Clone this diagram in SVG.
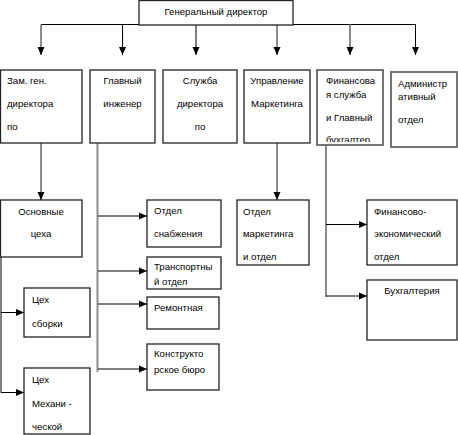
<svg xmlns="http://www.w3.org/2000/svg" width="458" height="435" viewBox="0 0 458 435">
<style>
.box{fill:#fff;stroke:#222;stroke-width:1.3}
.box2{fill:#fff;stroke:#666;stroke-width:1.8}
.t{font-family:"Liberation Sans",Arial,sans-serif;font-size:9.6px;fill:#000}
.c{text-anchor:middle}
.ln{stroke:#000;stroke-width:1;fill:none}
.gl{stroke:#8c8c8c;stroke-width:2;fill:none}
</style>
<defs>
<marker id="ah" viewBox="0 0 8 8" refX="8" refY="4" markerWidth="8" markerHeight="8" markerUnits="userSpaceOnUse" orient="auto">
<path d="M0,0.5 L8,4 L0,7.5 Z" fill="#000"/>
</marker>
<clipPath id="clip5"><rect x="317" y="70" width="66" height="72"/></clipPath>
</defs>

<g id="connectors">
<path class="ln" d="M41,24.5 H415.5"/>
<path class="gl" d="M41,24.5 V48"/><path class="ln" d="M41,47 V55" marker-end="url(#ah)"/>
<path class="ln" d="M122.5,24.5 V55" marker-end="url(#ah)"/>
<path class="ln" d="M196,24.5 V55" marker-end="url(#ah)"/>
<path class="gl" d="M277,24.5 V48"/><path class="ln" d="M277,47 V55" marker-end="url(#ah)"/>
<path class="gl" d="M350,24.5 V48"/><path class="ln" d="M350,47 V55" marker-end="url(#ah)"/>
<path class="ln" d="M415.5,24.5 V55" marker-end="url(#ah)"/>

<path class="gl" d="M41,143 V193"/><path class="ln" d="M41,192 V200" marker-end="url(#ah)"/>
<path class="gl" d="M97.5,143 V372"/>
<path class="ln" d="M98,216 H147" marker-end="url(#ah)"/>
<path class="ln" d="M98,271 H147" marker-end="url(#ah)"/>
<path class="ln" d="M98,304 H147" marker-end="url(#ah)"/>
<path class="ln" d="M98,369 H147" marker-end="url(#ah)"/>

<path class="ln" d="M1,257 V392.5"/>
<path class="ln" d="M1,312.5 H24" marker-end="url(#ah)"/>
<path class="ln" d="M1,392.5 H24" marker-end="url(#ah)"/>

<path class="gl" d="M277,143 V193"/><path class="ln" d="M277,192 V200" marker-end="url(#ah)"/>
<path class="gl" d="M326,145 V297"/>
<path class="ln" d="M326,224.5 H367" marker-end="url(#ah)"/>
<path class="ln" d="M326,296 H367" marker-end="url(#ah)"/>
</g>

<g id="n-gen">
<rect class="box" x="139" y="0.5" width="154" height="24.5"/>
<text class="t c" x="216" y="15">Генеральный директор</text>
</g>

<g id="n-zam">
<rect class="box" x="0.5" y="70" width="81.5" height="73"/>
<text class="t" x="7" y="83.5">Зам. ген.</text>
<text class="t" x="7" y="106.5">директора</text>
<text class="t" x="7" y="129.5">по</text>
</g>

<g id="n-glav">
<rect class="box" x="90" y="70" width="65" height="73"/>
<text class="t c" x="122.5" y="83.5">Главный</text>
<text class="t c" x="122.5" y="106.5">инженер</text>
</g>

<g id="n-sluzhba">
<rect class="box" x="163" y="70" width="74" height="73"/>
<text class="t c" x="200" y="83.5">Служба</text>
<text class="t c" x="200" y="106.5">директора</text>
<text class="t c" x="200" y="129.5">по</text>
</g>

<g id="n-upr">
<rect class="box" x="244" y="70" width="66" height="73"/>
<text class="t c" x="277" y="83.5">Управление</text>
<text class="t c" x="277" y="106.5">Маркетинга</text>
</g>

<g id="n-fin">
<rect class="box2" x="317" y="70" width="66" height="75"/>
<g clip-path="url(#clip5)">
<text class="t" x="326" y="83.5">Финансова</text>
<text class="t" x="326" y="97.5">я служба</text>
<text class="t" x="326" y="120.5">и Главный</text>
<text class="t" x="326" y="143">бухгалтер</text>
</g>
</g>

<g id="n-admin">
<rect class="box2" x="391" y="72" width="66" height="75"/>
<text class="t" x="398" y="86.5">Администр</text>
<text class="t" x="398" y="99.5">ативный</text>
<text class="t" x="398" y="122.5">отдел</text>
</g>

<g id="n-osn">
<rect class="box" x="0.5" y="200" width="81.5" height="57"/>
<text class="t c" x="41" y="214.5">Основные</text>
<text class="t c" x="41" y="236.5">цеха</text>
</g>

<g id="n-snab">
<rect class="box" x="147" y="200" width="74" height="47"/>
<text class="t" x="154" y="213.5">Отдел</text>
<text class="t" x="154" y="236.5">снабжения</text>
</g>

<g id="n-trans">
<rect class="box" x="147" y="257" width="74" height="32"/>
<text class="t" x="154" y="269.5">Транспортны</text>
<text class="t" x="154" y="284.5">й отдел</text>
</g>

<g id="n-rem">
<rect class="box" x="147" y="297" width="72" height="32"/>
<text class="t" x="154" y="310.5">Ремонтная</text>
</g>

<g id="n-konstr">
<rect class="box" x="147" y="344" width="72" height="46"/>
<text class="t" x="154" y="356.5">Конструкто</text>
<text class="t" x="154" y="372.5">рское бюро</text>
</g>

<g id="n-sborki">
<rect class="box" x="24" y="288" width="66" height="49"/>
<text class="t" x="32" y="302.5">Цех</text>
<text class="t" x="32" y="326.5">сборки</text>
</g>

<g id="n-mekh">
<rect class="box" x="24" y="368" width="66" height="66"/>
<text class="t" x="32" y="382.5">Цех</text>
<text class="t" x="32" y="406.5">Механи -</text>
<text class="t" x="32" y="429.5">ческой</text>
</g>

<g id="n-mark">
<rect class="box" x="237" y="200" width="72" height="65"/>
<text class="t" x="243" y="214.5">Отдел</text>
<text class="t" x="243" y="236.5">маркетинга</text>
<text class="t" x="243" y="259.5">и отдел</text>
</g>

<g id="n-fe">
<rect class="box" x="367" y="200" width="90" height="65"/>
<text class="t" x="374" y="214.5">Финансово-</text>
<text class="t" x="374" y="236.5">экономический</text>
<text class="t" x="374" y="259.5">отдел</text>
</g>

<g id="n-buh">
<rect class="box" x="367" y="280" width="90" height="60"/>
<text class="t c" x="412" y="293.5">Бухгалтерия</text>
</g>
</svg>
